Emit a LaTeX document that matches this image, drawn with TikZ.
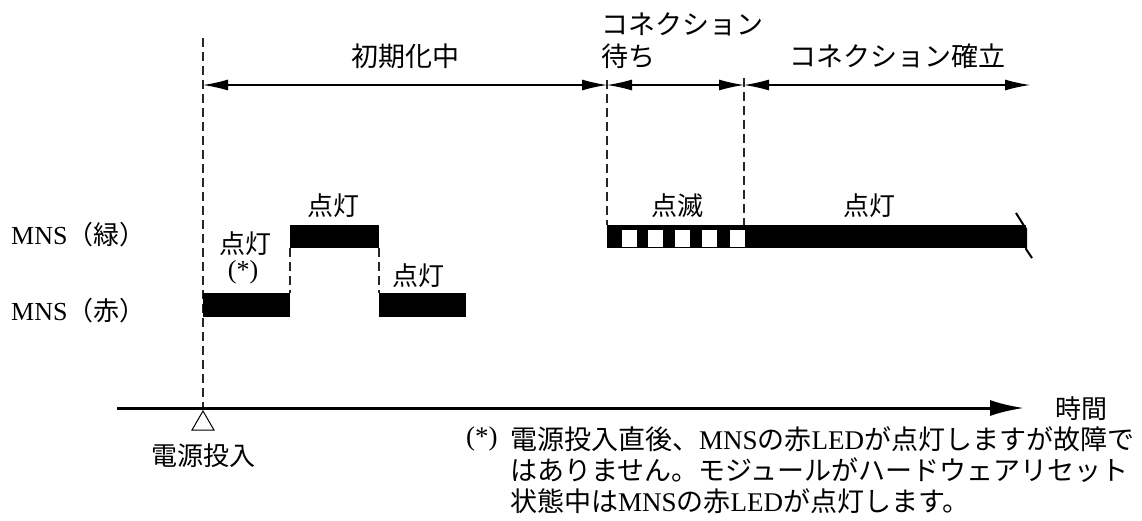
\documentclass[tikz,border=0pt]{standalone}
\usepackage{fontspec}
\setmainfont{Liberation Serif}
\newfontfamily\jp{Noto Sans CJK JP}
\usetikzlibrary{arrows.meta}
\begin{document}
\begin{tikzpicture}[x=1pt,y=-1pt,
  lbl/.style={font=\fontsize{26}{31}\selectfont, inner sep=0pt},
  big/.style={font=\fontsize{27}{31}\selectfont, inner sep=0pt},
  guide/.style={line width=1.3pt, dash pattern=on 9pt off 5pt, draw=black!85},
  span/.style={line width=1.2pt, {Latex[length=25pt,width=11pt]}-{Latex[length=25pt,width=11pt]}},
  bar/.style={fill=black},
  hole/.style={fill=white},
  axis/.style={line width=3pt, -{Latex[length=34pt,width=16pt]}}]
\useasboundingbox (0,0) rectangle (1142,520);

% key coordinates
\coordinate (p0) at (203,85);
\coordinate (p1) at (607,85);
\coordinate (p2) at (744,85);
\coordinate (p3) at (1030,85);

% guide lines
\draw[guide] (203,38) -- (203,408);
\draw[guide] (607,80) -- (607,225);
\draw[guide] (744,78) -- (744,225);
\draw[guide] (290,248) -- (290,293);
\draw[guide] (379,248) -- (379,293);

% phase spans
\draw[span] (p0) -- (p1);
\draw[span] (p1) -- (p2);
\draw[span] (p2) -- (p3);

% phase labels
\node[big] (init) at (405,56) {\jp 初期化中};
\node[big, anchor=west] (wait1) at (601,24) {\jp コネクション};
\node[big, anchor=west] (wait2) at (601,56) {\jp 待ち};
\node[big] (est) at (897,56) {\jp コネクション確立};

% signal names
\node[lbl, anchor=west] (green) at (11,235) {MNS{\jp（緑）}};
\node[lbl, anchor=west] (red) at (11,311) {MNS{\jp（赤）}};

% red / green bars during init
\fill[bar] (203,293) rectangle (290,317);
\fill[bar] (290,225) rectangle (379,248);
\fill[bar] (379,293) rectangle (466,317);

\node[lbl] (on1) at (245,244) {\jp 点灯};
\node[lbl] (star1) at (243,272) {(*)};
\node[lbl] (on2) at (333,206) {\jp 点灯};
\node[lbl] (on3) at (418,276) {\jp 点灯};

% green bar after connection
\fill[bar] (607,225) rectangle (1026,248);
\foreach \x in {622,648,675,702,730}
  \fill[hole] (\x,230) rectangle ++(14.5,16.5);
\draw[line width=2pt] (1016,213) -- (1026,229) -- (1026,249) -- (1032,258);

\node[lbl] (blink) at (677,206) {\jp 点滅};
\node[lbl] (on4) at (869,206) {\jp 点灯};

% time axis
\coordinate (a0) at (117,408);
\coordinate (a1) at (1024,408);
\draw[axis] (a0) -- (a1);
\node[lbl, anchor=west] (time) at (1055,409) {\jp 時間};

% power-on marker
\draw[line width=1pt, fill=white] (203,411) -- (214,430) -- (192,430) -- cycle;
\node[lbl] (pwr) at (203,456) {\jp 電源投入};

% footnote
\node[big, anchor=west] (fnmark) at (466,439) {(*)};
\node[big, anchor=west] (fn1) at (510,439) {{\jp 電源投入直後、}MNS{\jp の赤}LED{\jp が点灯しますが故障で}};
\node[big, anchor=west] (fn2) at (510,470) {\jp はありません。モジュールがハードウェアリセット};
\node[big, anchor=west] (fn3) at (510,501) {{\jp 状態中は}MNS{\jp の赤}LED{\jp が点灯します。}};
\end{tikzpicture}
\end{document}
